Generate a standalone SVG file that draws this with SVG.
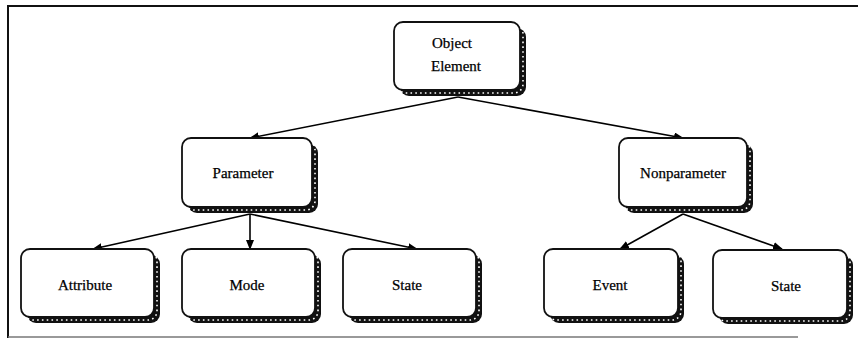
<svg xmlns="http://www.w3.org/2000/svg" width="858" height="348" viewBox="0 0 858 348">
  <defs>
    <marker id="arrow" markerWidth="10" markerHeight="8" refX="9" refY="4" orient="auto" markerUnits="userSpaceOnUse">
      <path d="M0,0 L10,4 L0,8 Z" fill="#000"/>
    </marker>
  </defs>
  <style>
    .frame { fill: none; stroke: #111; stroke-width: 2; }
    .frame-faint { fill: none; stroke: #777; stroke-width: 1.5; }
    .sh { fill: #111; stroke: none; }
    .dt { fill: none; stroke: #fff; stroke-width: 1.6; stroke-dasharray: 1.6 3.2; }
    .bx { fill: #fff; stroke: #111; stroke-width: 1.8; }
    .lbl { font-family: "Liberation Serif", "Times New Roman", serif; font-size: 15px; fill: #000; text-anchor: middle; stroke: #000; stroke-width: 0.25; }
    .edge { fill: none; stroke: #000; stroke-width: 1.6; marker-end: url(#arrow); }
  </style>

  <rect width="858" height="348" fill="#fff"/>

  <!-- page frame -->
  <path class="frame" d="M858,6 L8,6 L8,338"/>
  <path class="frame-faint" d="M8,337 L798,337"/>

  <!-- connectors -->
  <g id="edges">
    <line class="edge" x1="458" y1="97" x2="250" y2="138"/>
    <line class="edge" x1="458" y1="97" x2="683" y2="138"/>
    <line class="edge" x1="250" y1="214" x2="93" y2="249"/>
    <line class="edge" x1="250" y1="214" x2="250" y2="249"/>
    <line class="edge" x1="250" y1="214" x2="417" y2="249"/>
    <line class="edge" x1="683" y1="214" x2="620" y2="249"/>
    <line class="edge" x1="683" y1="214" x2="782" y2="249"/>
  </g>

  <!-- nodes: offset shadow, dotted highlight, white box, label -->
  <g id="object-element">
    <rect class="sh" x="400" y="28" width="126" height="68" rx="9"/>
    <rect class="dt" x="397" y="25" width="126" height="68" rx="9"/>
    <rect class="bx" x="394" y="22" width="126" height="68" rx="9"/>
    <text class="lbl" x="452" y="48">Object</text>
    <text class="lbl" x="456" y="71">Element</text>
  </g>

  <g id="parameter">
    <rect class="sh" x="188" y="144" width="130" height="69" rx="9"/>
    <rect class="dt" x="185" y="141" width="130" height="69" rx="9"/>
    <rect class="bx" x="182" y="138" width="130" height="69" rx="9"/>
    <text class="lbl" x="243" y="178">Parameter</text>
  </g>

  <g id="nonparameter">
    <rect class="sh" x="625" y="144" width="128" height="69" rx="9"/>
    <rect class="dt" x="622" y="141" width="128" height="69" rx="9"/>
    <rect class="bx" x="619" y="138" width="128" height="69" rx="9"/>
    <text class="lbl" x="683" y="178">Nonparameter</text>
  </g>

  <g id="attribute">
    <rect class="sh" x="27" y="255" width="133" height="68" rx="9"/>
    <rect class="dt" x="24" y="252" width="133" height="68" rx="9"/>
    <rect class="bx" x="21" y="249" width="133" height="68" rx="9"/>
    <text class="lbl" x="85" y="290">Attribute</text>
  </g>

  <g id="mode">
    <rect class="sh" x="188" y="255" width="133" height="68" rx="9"/>
    <rect class="dt" x="185" y="252" width="133" height="68" rx="9"/>
    <rect class="bx" x="182" y="249" width="133" height="68" rx="9"/>
    <text class="lbl" x="247" y="290">Mode</text>
  </g>

  <g id="parameter-state">
    <rect class="sh" x="349" y="255" width="133" height="68" rx="9"/>
    <rect class="dt" x="346" y="252" width="133" height="68" rx="9"/>
    <rect class="bx" x="343" y="249" width="133" height="68" rx="9"/>
    <text class="lbl" x="407" y="290">State</text>
  </g>

  <g id="event">
    <rect class="sh" x="550" y="255" width="134" height="68" rx="9"/>
    <rect class="dt" x="547" y="252" width="134" height="68" rx="9"/>
    <rect class="bx" x="544" y="249" width="134" height="68" rx="9"/>
    <text class="lbl" x="610" y="290">Event</text>
  </g>

  <g id="nonparameter-state">
    <rect class="sh" x="719" y="256" width="134" height="68" rx="9"/>
    <rect class="dt" x="716" y="253" width="134" height="68" rx="9"/>
    <rect class="bx" x="713" y="250" width="134" height="68" rx="9"/>
    <text class="lbl" x="786" y="291">State</text>
  </g>
</svg>
